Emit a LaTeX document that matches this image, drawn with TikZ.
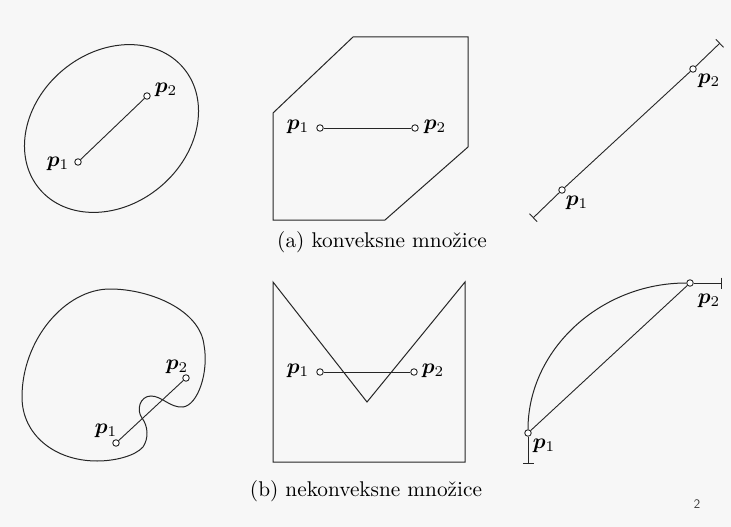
\documentclass[tikz,border=0pt]{standalone}
\usepackage{bm}
\usetikzlibrary{arrows.meta}
\newcommand{\bigtxt}[1]{\scalebox{2.13}{\fontsize{10}{12}\selectfont #1}}
\begin{document}
\begin{tikzpicture}[x=1pt,y=-1pt,
  shape line/.style={line width=1pt, black!85},
  seg/.style={line width=0.9pt, black!85},
  pt/.style={circle, draw=black!85, line width=0.9pt, fill=white, inner sep=0pt, minimum size=6.5pt},
  lab/.style={inner sep=0pt},
  captext/.style={inner sep=0pt},
  endbar/.style={line width=0.9pt, black!85}]
\useasboundingbox[fill=black!3] (0,0) rectangle (731,527);

% ---- (a) ellipse
\draw[shape line, rotate around={40:(111.5,128.5)}] (111.5,128.5) ellipse [x radius=94, y radius=76];
\node[pt] (c1) at (78,162) {};
\node[pt] (c2) at (147,96) {};
\draw[seg] (c1) -- (c2);
\node[lab] (lc1) at (58,164) {\bigtxt{$\bm{p}_1$}};
\node[lab] (lc2) at (166,90) {\bigtxt{$\bm{p}_2$}};

% ---- (a) hexagon
\draw[shape line] (273,113) -- (353,37) -- (468,37) -- (468,147) -- (385,220) -- (273,220) -- cycle;
\node[pt] (h1) at (320,128) {};
\node[pt] (h2) at (415,128) {};
\draw[seg] (h1) -- (h2);
\node[lab] (lh1) at (298,127) {\bigtxt{$\bm{p}_1$}};
\node[lab] (lh2) at (435,127) {\bigtxt{$\bm{p}_2$}};
\node[captext] (capa) at (382,242) {\bigtxt{(a) konveksne množice}};

% ---- (a) line
\coordinate (e1) at (533,218);
\coordinate (e2) at (720,43);
\node[pt] (a1) at (562,190) {};
\node[pt] (a2) at (693,69) {};
\draw[endbar, {Bar[width=11pt,line width=0.9pt]}-] (e1) -- (a1);
\draw[seg] (a1) -- (a2);
\draw[endbar, -{Bar[width=11pt,line width=0.9pt]}] (a2) -- (e2);
\node[lab] (la1) at (577,203) {\bigtxt{$\bm{p}_1$}};
\node[lab] (la2) at (709,81) {\bigtxt{$\bm{p}_2$}};

% ---- (b) kidney
\draw[shape line] (110,289) .. controls (150,289) and (200,310) .. (204,345)
  .. controls (209,372) and (198,405) .. (183,407)
  .. controls (170,408) and (162,396) .. (151,396)
  .. controls (140,396) and (136,410) .. (142,418)
  .. controls (148,426) and (149,438) .. (143,447)
  .. controls (135,456) and (115,461) .. (97,461)
  .. controls (55,461) and (22,435) .. (22,397)
  .. controls (22,340) and (65,289) .. (110,289) -- cycle;
\node[pt] (k1) at (116,443) {};
\node[pt] (k2) at (186,378) {};
\draw[seg] (k1) -- (k2);
\node[lab] (lk1) at (106,431) {\bigtxt{$\bm{p}_1$}};
\node[lab] (lk2) at (177,367) {\bigtxt{$\bm{p}_2$}};

% ---- (b) V shape
\draw[shape line] (273,282) -- (367,402) -- (465,282) -- (465,462) -- (273,462) -- cycle;
\node[pt] (v1) at (320,372) {};
\node[pt] (v2) at (414,372) {};
\draw[seg] (v1) -- (v2);
\node[lab] (lv1) at (298,371) {\bigtxt{$\bm{p}_1$}};
\node[lab] (lv2) at (433,371) {\bigtxt{$\bm{p}_2$}};
\node[captext] (capb) at (366,491) {\bigtxt{(b) nekonveksne množice}};

% ---- (b) arc
\node[pt] (b1) at (528,433) {};
\node[pt] (b2) at (690,283) {};
\coordinate (f1) at (528,464);
\coordinate (f2) at (722,283);
\draw[shape line] (b1.north) .. controls (528,350) and (600,283) .. (b2.west);
\draw[seg] (b1) -- (b2);
\draw[endbar, -{Bar[width=11pt,line width=0.9pt]}] (b1) -- (f1);
\draw[endbar, -{Bar[width=11pt,line width=0.9pt]}] (b2) -- (f2);
\node[lab] (lb1) at (544,446) {\bigtxt{$\bm{p}_1$}};
\node[lab] (lb2) at (709,301) {\bigtxt{$\bm{p}_2$}};

% page number
\node[font=\sffamily\fontsize{13}{15}\selectfont, inner sep=0pt, black!80] (pg) at (697,504) {2};
\end{tikzpicture}
\end{document}
